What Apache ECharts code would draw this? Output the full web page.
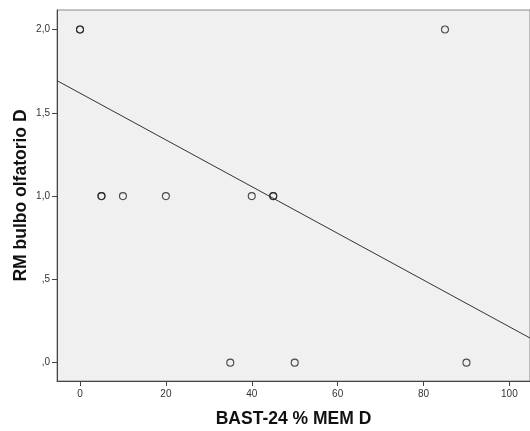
<!DOCTYPE html>
<html>
<head>
<meta charset="utf-8">
<script src="https://cdn.jsdelivr.net/npm/echarts@6/dist/echarts.min.js"></script>
<style>
  html, body { margin: 0; padding: 0; background: #fff; }
  #chart { width: 530px; height: 431px; }
</style>
</head>
<body>
<div id="chart"></div>
<script>
// Observed values: BAST-24 % MEM D vs RM bulbo olfatorio D (repeated pairs listed twice)
const bastMem = [0, 0, 5, 5, 10, 20, 40, 45, 45, 85, 35, 50, 90];
const rmBulbo = [2, 2, 1, 1, 1, 1, 1, 1, 1, 2, 0, 0, 0];

// Fit line end points, spanning the x-axis extent
const fitX = [-5.36, 104.8];
const fitY = [1.693, 0.148];

// Axis tick positions and labels
const xTicks = [0, 20, 40, 60, 80, 100];
const yTicks = [0, 0.5, 1, 1.5, 2];
const yTickLabels = [',0', ',5', '1,0', '1,5', '2,0'];

const xRange = [-5.36, 104.8];
const yRange = [-0.11, 2.117];

const points = bastMem.map((x, i) => [x, rmBulbo[i]]);
const fitLine = fitX.map((x, i) => [x, fitY[i]]);

const chart = echarts.init(document.getElementById('chart'), null, { renderer: 'canvas' });
chart.setOption({
  animation: false,
  backgroundColor: '#ffffff',
  grid: {
    left: 57, top: 10, right: 0, bottom: 50,
    containLabel: false,
    outerBoundsMode: 'none',
    show: true,
    backgroundColor: '#f0f0f0',
    borderColor: '#8a8a8a',
    borderWidth: 1
  },
  xAxis: {
    type: 'value',
    min: xRange[0], max: xRange[1],
    name: 'BAST-24 % MEM D',
    nameLocation: 'middle',
    nameGap: 29,
    nameMoveOverlap: false,
    nameTextStyle: { fontFamily: 'Liberation Sans', fontWeight: 'bold', fontSize: 17.5, color: '#111' },
    splitLine: { show: false },
    axisLine: { show: true, onZero: false, lineStyle: { color: '#444', width: 1 } },
    axisTick: { show: true, length: 5, inside: false, lineStyle: { color: '#444' }, customValues: xTicks },
    axisLabel: {
      customValues: xTicks,
      fontFamily: 'Liberation Sans', fontSize: 10, color: '#333', margin: 8,
      formatter: v => String(v)
    }
  },
  yAxis: {
    type: 'value',
    min: yRange[0], max: yRange[1],
    name: 'RM bulbo olfatorio D',
    nameLocation: 'middle',
    nameGap: 27,
    nameMoveOverlap: false,
    nameRotate: 90,
    nameTextStyle: { fontFamily: 'Liberation Sans', fontWeight: 'bold', fontSize: 17.5, color: '#111' },
    splitLine: { show: false },
    axisLine: { show: true, onZero: false, lineStyle: { color: '#444', width: 1 } },
    axisTick: { show: true, length: 5, inside: false, lineStyle: { color: '#444' }, customValues: yTicks },
    axisLabel: {
      customValues: yTicks,
      fontFamily: 'Liberation Sans', fontSize: 10, color: '#333', margin: 7,
      formatter: v => {
        const i = yTicks.findIndex(t => Math.abs(t - v) < 1e-9);
        return i >= 0 ? yTickLabels[i] : '';
      }
    }
  },
  series: [
    {
      type: 'line',
      data: fitLine,
      showSymbol: false,
      symbol: 'none',
      lineStyle: { color: '#333', width: 1 },
      silent: true,
      z: 2
    },
    {
      type: 'scatter',
      data: points,
      symbol: 'circle',
      symbolSize: 7,
      itemStyle: { color: 'rgba(0,0,0,0)', borderColor: '#222', borderWidth: 1.1 },
      z: 3
    }
  ]
});
</script>
</body>
</html>
